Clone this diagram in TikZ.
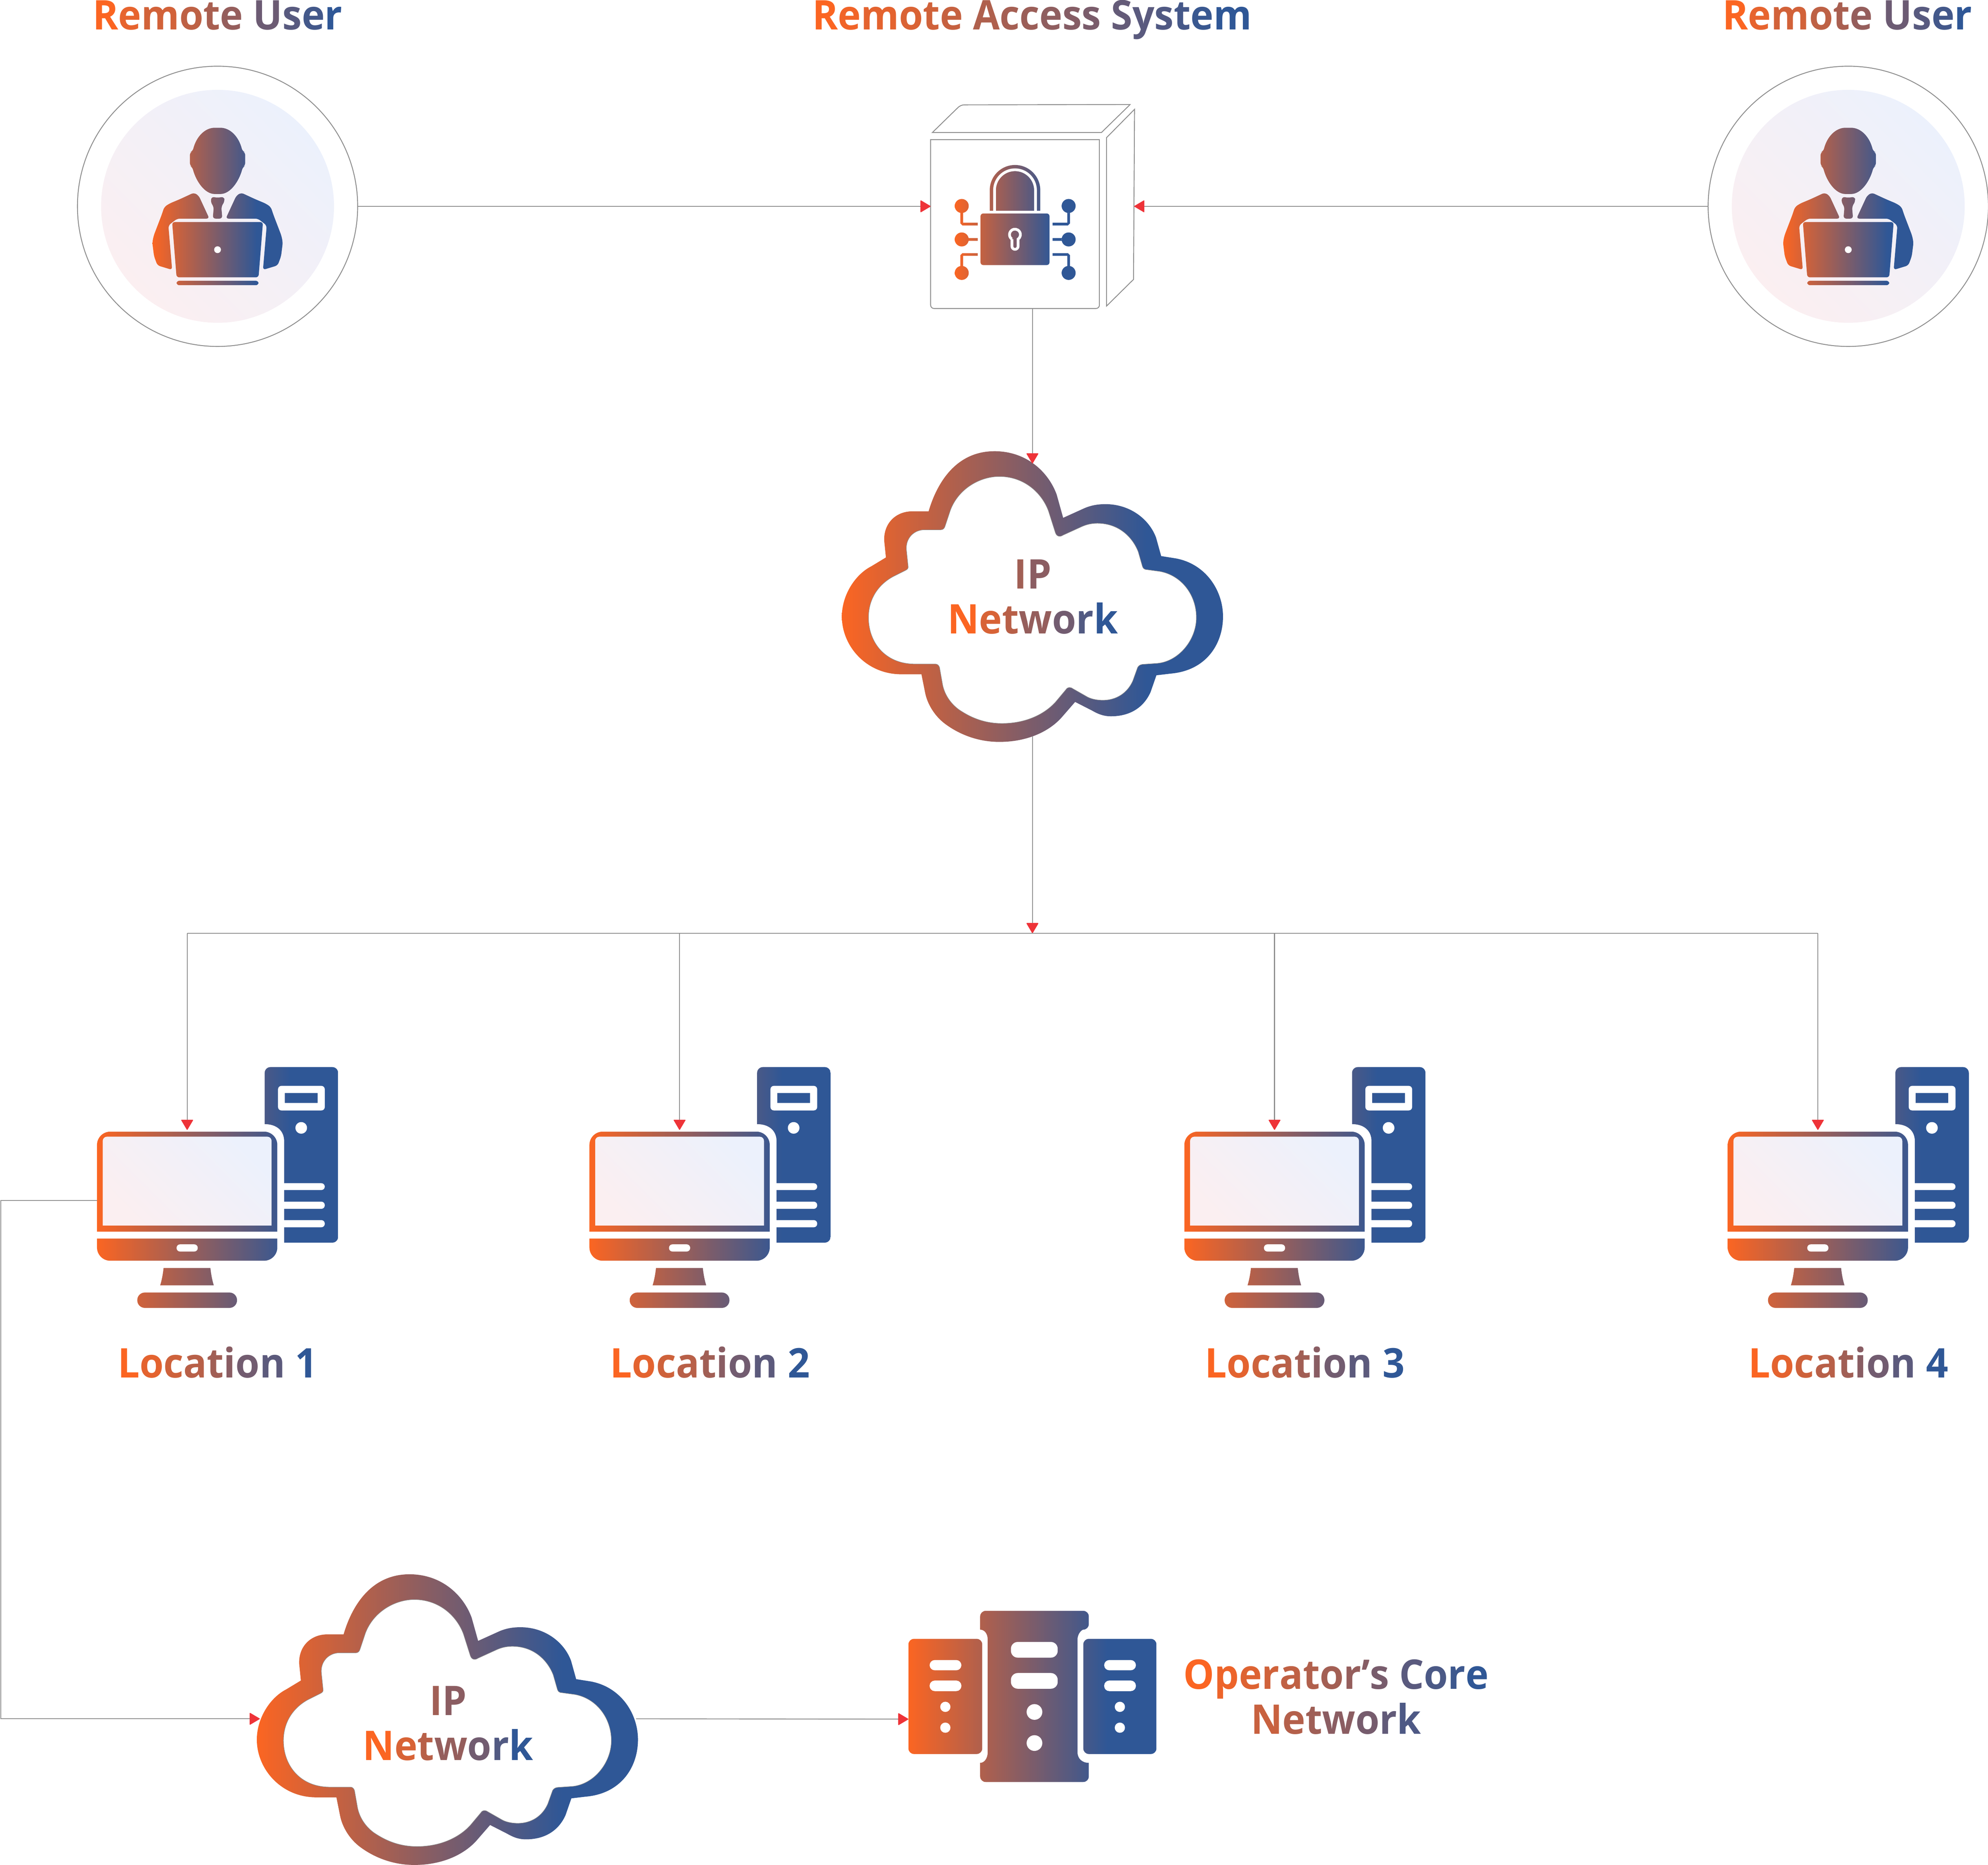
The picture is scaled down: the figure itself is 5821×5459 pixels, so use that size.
\documentclass[tikz,border=0pt]{standalone}
\usepackage{fontspec}
\setmainfont{Open Sans}[BoldFeatures={FakeStretch=0.95}]
\usepackage{xcolor}
\usetikzlibrary{arrows.meta}
\definecolor{gradorange}{HTML}{FB6522}
\definecolor{gradblue}{HTML}{2F5796}
\definecolor{softpink}{HTML}{FBEFF1}
\definecolor{softblue}{HTML}{ECF1FC}
\definecolor{wiregray}{HTML}{8C8C8C}
\definecolor{tipred}{HTML}{EE3338}
\pgfdeclarehorizontalshading{brandgrad}{100bp}{color(0bp)=(gradorange); color(25bp)=(gradorange); color(65bp)=(gradblue); color(100bp)=(gradblue)}
\pgfdeclarehorizontalshading{softgrad}{100bp}{color(0bp)=(softpink); color(25bp)=(softpink); color(75bp)=(softblue); color(100bp)=(softblue)}
\tikzset{
  brandfill/.style={shading=brandgrad},
  softfill/.style={shading=softgrad,shading angle=45},
  wire/.style={color=wiregray,line width=.025cm},
  flow/.style={wire,-{Triangle[length=.31cm,width=.36cm,color=tipred,round]}},
  hole/.style={fill=white},
  cut/.style={draw=white,line width=.08cm},
  anchorbox/.style={inner sep=0pt,outer sep=0pt,minimum width=#1},
  heading/.style={anchor=base,inner sep=0pt,outer sep=0pt,align=center,font=\fontsize{34}{37.3}\selectfont\bfseries},
}
\ExplSyntaxOn
\int_new:N \l_grad_idx_int
\int_new:N \l_grad_num_int
\NewDocumentCommand{\gradtext}{mmm}{
  \int_set:Nn \l_grad_num_int {\str_count:n {#3}}
  \int_zero:N \l_grad_idx_int
  \str_map_inline:nn {#3}
    {
      \tl_if_blank:nTF {##1}
        {~}
        {\textcolor{gradblue!\int_eval:n {#1+(#2-#1)*\l_grad_idx_int/(\l_grad_num_int-1)}!gradorange}{##1}}
      \int_incr:N \l_grad_idx_int
    }
}
\ExplSyntaxOff
\newcommand{\usericon}[1]{
  \node[circle,draw=wiregray,line width=.025cm,inner sep=0pt,outer sep=0pt,minimum size=8.2cm] (#1) at (637,604) {};
  \shade[softfill] (637,604) circle[radius=341];
  \shade[brandfill,rounded corners=.08cm]
    (564,443) .. controls (575,400) and (600,374) .. (637,374) .. controls (674,374) and (699,400) .. (710,443)
      -- (718,446) -- (718,485) -- (711,489) .. controls (700,530) and (675,568) .. (637,568) .. controls (599,568) and (574,530) .. (563,489)
      -- (556,485) -- (556,446) -- cycle
    (568,564) -- (582,573) -- (613,640) -- (519,640) -- (493,660) -- (504,790) -- (461,777) -- (451,750) -- (446,710) -- (450,690) -- (473,630) -- (481,606) -- (496,596) -- (527,583) -- cycle
    (706,564) -- (692,573) -- (661,640) -- (755,640) -- (781,660) -- (770,790) -- (813,777) -- (823,750) -- (828,710) -- (824,690) -- (801,630) -- (793,606) -- (778,596) -- (747,583) -- cycle
    (619,576) -- (637,579) -- (656,576) -- (658,589) -- (648,605) -- (651,640) -- (623,640) -- (626,605) -- (617,593) -- cycle
    (504,650) -- (770,650) -- (757,812) -- (517,812) -- cycle
    (517,822) -- (757,822) -- (757,835) -- (517,835) -- cycle;
  \fill[hole] (637,731) circle[radius=10];
}
\newcommand{\cloudshape}{
  \shade[brandfill] (2719,1497) .. controls (2735,1442) and (2783,1321) .. (2912,1321)
    .. controls (3006,1321) and (3070,1382) .. (3094,1448)
    -- (3113,1516) -- (3177,1487)
    .. controls (3197,1479) and (3215,1476) .. (3237,1476)
    .. controls (3309,1476) and (3365,1520) .. (3385,1574)
    -- (3400,1628) -- (3444,1635)
    .. controls (3532,1652) and (3581,1730) .. (3581,1805)
    .. controls (3581,1885) and (3532,1963) .. (3428,1972)
    -- (3386,1977) -- (3369,2026)
    .. controls (3349,2071) and (3309,2097) .. (3253,2097)
    .. controls (3229,2097) and (3213,2089) .. (3197,2080)
    -- (3148,2055) -- (3108,2101)
    .. controls (3070,2143) and (3006,2172) .. (2926,2172)
    .. controls (2862,2172) and (2807,2149) .. (2767,2119)
    .. controls (2735,2095) and (2715,2059) .. (2709,2029)
    -- (2698,1974) -- (2639,1974)
    .. controls (2536,1974) and (2465,1891) .. (2465,1805)
    .. controls (2465,1742) and (2504,1682) .. (2551,1658)
    -- (2594,1632) -- (2589,1583)
    .. controls (2587,1532) and (2623,1497) .. (2671,1497) -- cycle;
  \draw[fill=white,draw=wiregray,line width=.012cm] (2768,1538) -- (2783,1493)
    .. controls (2807,1430) and (2870,1395) .. (2926,1395)
    .. controls (2998,1395) and (3050,1442) .. (3070,1496)
    -- (3090,1559) .. controls (3094,1572) and (3105,1572) .. (3112,1567)
    -- (3169,1541) .. controls (3183,1535) and (3197,1532) .. (3213,1532)
    .. controls (3277,1532) and (3317,1574) .. (3333,1616)
    -- (3345,1658) .. controls (3347,1664) and (3350,1666) .. (3353,1667)
    -- (3397,1673) .. controls (3460,1685) and (3503,1742) .. (3503,1808)
    .. controls (3503,1873) and (3452,1936) .. (3389,1942)
    -- (3345,1945) .. controls (3338,1946) and (3334,1949) .. (3331,1954)
    -- (3317,1993) .. controls (3301,2029) and (3269,2050) .. (3229,2050)
    .. controls (3213,2050) and (3197,2047) .. (3185,2041)
    -- (3141,2016) .. controls (3134,2011) and (3126,2011) .. (3121,2019)
    -- (3090,2056) .. controls (3054,2095) and (2998,2118) .. (2934,2118)
    .. controls (2878,2118) and (2838,2098) .. (2807,2077)
    .. controls (2779,2056) and (2765,2029) .. (2760,2005)
    -- (2751,1954) .. controls (2749,1948) and (2745,1944) .. (2739,1944)
    -- (2679,1944) .. controls (2591,1944) and (2543,1880) .. (2543,1808)
    .. controls (2543,1754) and (2571,1712) .. (2615,1688)
    -- (2651,1670) .. controls (2657,1667) and (2660,1664) .. (2659,1658)
    -- (2654,1610) .. controls (2651,1577) and (2675,1551) .. (2707,1551)
    -- (2755,1551) .. controls (2762,1551) and (2766,1546) .. (2768,1538) -- cycle;
}
\newcommand{\computer}[2]{
  \node[anchorbox=5.28cm,minimum height=4.14cm] (#1) at (548,3515) {};
  \node[heading] (#1label) at (637,4033) {\gradtext{0}{100}{#2}};
  \shade[brandfill]
    (284,3606) [rounded corners=.39cm] -- (284,3313) -- (812,3313) [sharp corners] -- (812,3606) -- cycle
    (284,3626) -- (812,3626) [rounded corners=.39cm] -- (812,3691) -- (284,3691) [sharp corners] -- cycle
    (479,3712) -- (616,3712) .. controls (618,3730) and (621,3747) .. (626,3763) -- (469,3763) .. controls (474,3747) and (477,3730) .. (479,3712) -- cycle
    [rounded corners=.22cm] (402,3784) rectangle (694,3829) [sharp corners]
    (775,3291) [rounded corners=.17cm] -- (775,3124) -- (990,3124) -- (990,3638) [sharp corners] -- (832,3638) -- (832,3341) .. controls (832,3310) and (810,3291) .. (775,3291) -- cycle;
  \draw[fill=white,draw=none] (301,3588) [rounded corners=.12cm] -- (301,3328) -- (795,3328) [sharp corners] -- (795,3588) -- cycle;
  \shade[softfill] (301,3588) [rounded corners=.12cm] -- (301,3328) -- (795,3328) [sharp corners] -- (795,3588) -- cycle;
  \fill[hole,rounded corners=.1cm] (517,3643) rectangle (579,3664);
  \fill[hole,even odd rule,rounded corners=.1cm] (814,3179) rectangle (951,3251) [sharp corners] (834,3200) rectangle (930,3229);
  \fill[hole] (882,3302) circle[radius=17];
  \fill[hole,rounded corners=.1cm] (822,3464) rectangle (951,3484) (822,3518) rectangle (951,3539) (822,3572) rectangle (951,3593);
}
\begin{document}
\begin{tikzpicture}[x=.01cm,y=-.01cm]
  \useasboundingbox (0,0) rectangle (5821,5459);
  \usericon{userL}
  \begin{scope}[xshift=47.72cm]
    \usericon{userR}
  \end{scope}
  \node[heading] (titleL) at (637,87) {\gradtext{0}{100}{Remote User}};
  \node[heading] (titleR) at (5409,87) {\gradtext{0}{100}{Remote User}};
  \node[heading] (titleM) at (3022,87) {\gradtext{0}{100}{Remote Access System}};

  \node[anchorbox=4.94cm,minimum height=4.94cm] (rasbox) at (2972,656) {};
  \draw[wire,rounded corners=.1cm] (rasbox.north west) -- (rasbox.south west) -- (rasbox.south east) [sharp corners] -- (rasbox.north east) -- cycle;
  \draw[wire] (2730,388) [rounded corners=.1cm] -- (2813,307) [sharp corners] -- (3309,306) -- (3225,388) -- cycle;
  \draw[wire] (3240,403) -- (3322,320) -- (3319,818) -- (3240,896) -- cycle;
  \coordinate (rasside) at (3321,604);
  \shade[brandfill]
    (2898,617) -- (2898,557) arc[start angle=180,end angle=360,radius=74] -- (3046,617) -- cycle
    [rounded corners=.08cm] (2871,625) rectangle (3073,776) [sharp corners]
    (2816,603) circle[radius=20.5] (2816,701) circle[radius=20.5] (2816,799) circle[radius=20.5]
    (3129,603) circle[radius=20.5] (3129,701) circle[radius=20.5] (3129,799) circle[radius=20.5]
    (2812,623) -- (2820,623) -- (2820,652) -- (2863,652) -- (2863,660) -- (2818,660) -- (2812,654) -- cycle
    (2836,697) rectangle (2863,705)
    (2812,779) -- (2820,779) -- (2820,749) -- (2863,749) -- (2863,741) -- (2818,741) -- (2812,747) -- cycle
    (3133,623) -- (3125,623) -- (3125,652) -- (3082,652) -- (3082,660) -- (3127,660) -- (3133,654) -- cycle
    (3082,697) rectangle (3109,705)
    (3133,779) -- (3125,779) -- (3125,749) -- (3082,749) -- (3082,741) -- (3127,741) -- (3133,747) -- cycle;
  \draw[cut] (2912,618) -- (2912,557) arc[start angle=180,end angle=360,radius=60] -- (3032,618);
  \draw[cut] (2963,700) -- (2963,721) arc[start angle=180,end angle=0,radius=9] -- (2981,700) arc[start angle=55,end angle=-235,radius=16];

  \begin{scope}
    \cloudshape
  \end{scope}
  \node[anchorbox=11.16cm,minimum height=7.98cm] (cloudA) at (3023,1756) {};
  \node[heading] (cloudAlabel) at (3024,1855) {\gradtext{44}{55}{IP}\\\gradtext{0}{100}{Network}};

  \begin{scope}[xshift=-17.12cm,yshift=-32.86cm]
    \cloudshape
  \end{scope}
  \node[anchorbox=11.01cm,minimum height=8.5cm] (cloudB) at (1311.5,5032) {};
  \node[heading] (cloudBlabel) at (1312,5153) {\gradtext{44}{55}{IP}\\\gradtext{0}{100}{Network}};

  \computer{monA}{Location 1}
  \begin{scope}[xshift=14.41cm]
    \computer{monB}{Location 2}
  \end{scope}
  \begin{scope}[xshift=31.82cm]
    \computer{monC}{Location 3}
  \end{scope}
  \begin{scope}[xshift=47.72cm]
    \computer{monD}{Location 4}
  \end{scope}

  \node[anchorbox=7.26cm,minimum height=6.34cm] (core) at (3023,5033) {};
  \shade[brandfill,rounded corners=.16cm]
    (2660,4798) rectangle (2876,5135)
    (3172,4798) rectangle (3386,5135)
    (2870,4771) -- (2870,4716) -- (3188,4716) -- (3188,4771) [sharp corners] .. controls (3168,4771) and (3155,4782) .. (3155,4800) -- (3155,5130) .. controls (3155,5148) and (3168,5161) .. (3188,5161) [rounded corners=.16cm] -- (3188,5217) -- (2870,5217) [sharp corners] -- (2870,5161) .. controls (2882,5161) and (2892,5148) .. (2892,5130) -- (2892,4800) .. controls (2892,4782) and (2882,4771) .. (2870,4771) -- cycle;
  \fill[hole,rounded corners=.15cm] (2722,4860) rectangle (2815,4890) (2722,4920) rectangle (2815,4951) (3233,4860) rectangle (3326,4890) (3233,4920) rectangle (3326,4951);
  \fill[hole,rounded corners=.2cm] (2960,4807) rectangle (3097,4853) (2960,4898) rectangle (3097,4944);
  \fill[hole] (2768,4997) circle[radius=15] (2768,5058) circle[radius=15] (3279,4997) circle[radius=15] (3279,5058) circle[radius=15] (3029,5012) circle[radius=23] (3029,5103) circle[radius=23];
  \node[heading] (corelabel) at (3912,5076) {\gradtext{0}{100}{Operator’s Core}\\\gradtext{25}{85}{Network}};

  \coordinate (bus) at (3023,2732);
  \coordinate (siderail) at (2,5032);
  \path[flow] (userL.east) edge (userL.east -| rasbox.west);
  \path[flow] (userR.west) edge (rasside);
  \path[flow] (rasbox.south -| cloudA.north) edge (cloudA.north);
  \path[flow] (cloudA.south) edge (bus);
  \draw[wire] (bus -| monA.north) -- (bus -| monD.north);
  \path[flow] (bus -| monA.north) edge (monA.north);
  \path[flow] (bus -| monB.north) edge (monB.north);
  \path[flow] (bus -| monC.north) edge (monC.north);
  \path[flow] (bus -| monD.north) edge (monD.north);
  \draw[flow] (monA.west) -| (siderail) -- (cloudB.west);
  \path[flow] (cloudB.east) edge (core.west);
\end{tikzpicture}
\end{document}
